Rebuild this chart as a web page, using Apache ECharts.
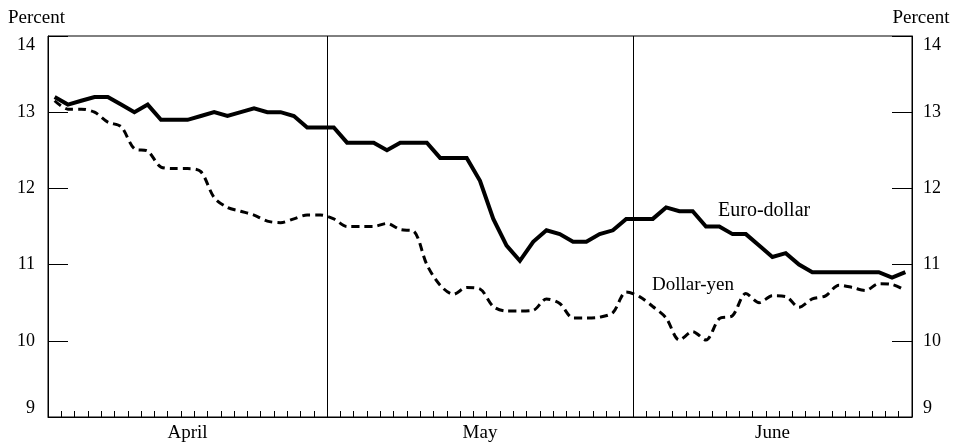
<!DOCTYPE html>
<html>
<head>
<meta charset="utf-8">
<script src="https://cdn.jsdelivr.net/npm/echarts@6/dist/echarts.min.js"></script>
<style>html,body{margin:0;padding:0;background:#fff;}#c{width:956px;height:447px;}</style>
</head>
<body>
<div id="c"></div>
<script>
// ---- data ----
const months = ['April', 'May', 'June'];
const daysPerMonth = [21, 23, 21];
const yTicks = [9, 10, 11, 12, 13, 14];
const euroDollar = [
  13.2, 13.1, 13.15, 13.2, 13.2, 13.1, 13.0, 13.1, 12.9, 12.9,
  12.9, 12.95, 13.0, 12.95, 13.0, 13.05, 13.0, 13.0, 12.95, 12.8,
  12.8, 12.8, 12.6, 12.6, 12.6, 12.5, 12.6, 12.6, 12.6, 12.4,
  12.4, 12.4, 12.1, 11.6, 11.25, 11.05, 11.3, 11.45, 11.4, 11.3,
  11.3, 11.4, 11.45, 11.6, 11.6, 11.6, 11.75, 11.7, 11.7, 11.5,
  11.5, 11.4, 11.4, 11.25, 11.1, 11.15, 11.0, 10.9, 10.9, 10.9,
  10.9, 10.9, 10.9, 10.83, 10.9
];
const dollarYen = [
  13.15, 13.04, 13.04, 13.0, 12.87, 12.81, 12.52, 12.49, 12.28, 12.26,
  12.26, 12.22, 11.88, 11.75, 11.7, 11.65, 11.57, 11.55, 11.6, 11.65,
  11.65, 11.6, 11.5, 11.5, 11.5, 11.54, 11.46, 11.44, 11.0, 10.73,
  10.61, 10.7, 10.68, 10.45, 10.39, 10.39, 10.4, 10.55, 10.49, 10.3,
  10.3, 10.31, 10.37, 10.64, 10.58, 10.45, 10.3, 10.01, 10.12, 10.01,
  10.29, 10.33, 10.62, 10.5, 10.59, 10.58, 10.44, 10.55, 10.59, 10.73,
  10.7, 10.66, 10.75, 10.74, 10.66
];

// ---- build categories ----
const categories = [];
const monthStart = [];
const monthMid = {};
let idx = 0;
months.forEach((m, mi) => {
  monthStart.push(idx);
  monthMid[idx + Math.floor(daysPerMonth[mi] / 2)] = m;
  for (let d = 0; d < daysPerMonth[mi]; d++) { categories.push(m + ' ' + (d + 1)); idx++; }
});

const FONT = 'Liberation Serif';
const txt = { fontFamily: FONT, fontSize: 18, color: '#000' };

const chart = echarts.init(document.getElementById('c'), null, { renderer: 'canvas' });
chart.setOption({
  animation: false,
  backgroundColor: '#fff',
  grid: { left: 48, right: 44, top: 36, bottom: 30, show: true, borderColor: '#000', borderWidth: 1, backgroundColor: 'transparent' },
  xAxis: {
    type: 'category',
    data: categories,
    boundaryGap: true,
    axisLine: { lineStyle: { color: '#000', width: 1 } },
    axisTick: { show: true, inside: true, length: 6, interval: 0, lineStyle: { color: '#000' } },
    axisLabel: {
      interval: (i) => monthMid[i] !== undefined,
      formatter: (v, i) => monthMid[i] || '',
      margin: 7,
      fontFamily: FONT, fontSize: 19, color: '#000'
    },
    splitLine: { show: true, interval: (i) => monthStart.indexOf(i) > 0, lineStyle: { color: '#000', width: 1 } }
  },
  yAxis: [
    {
      type: 'value', min: yTicks[0], max: yTicks[yTicks.length - 1], interval: 1,
      position: 'left',
      name: 'Percent', nameLocation: 'end', nameGap: 8,
      nameTextStyle: { fontFamily: FONT, fontSize: 19, color: '#000', align: 'center', padding: [0, 23, 0, 0] },
      axisLine: { show: true, lineStyle: { color: '#000', width: 1 } },
      axisTick: { show: true, inside: true, length: 20, lineStyle: { color: '#000' } },
      axisLabel: { margin: 13, verticalAlignMaxLabel: 'top', verticalAlignMinLabel: 'bottom', ...txt },
      splitLine: { show: false }
    },
    {
      type: 'value', min: yTicks[0], max: yTicks[yTicks.length - 1], interval: 1,
      position: 'right',
      name: 'Percent', nameLocation: 'end', nameGap: 8,
      nameTextStyle: { fontFamily: FONT, fontSize: 19, color: '#000', align: 'center', padding: [0, 0, 0, 18] },
      axisLine: { show: true, lineStyle: { color: '#000', width: 1 } },
      axisTick: { show: true, inside: true, length: 20, lineStyle: { color: '#000' } },
      axisLabel: { margin: 11, verticalAlignMaxLabel: 'top', verticalAlignMinLabel: 'bottom', ...txt },
      splitLine: { show: false }
    }
  ],
  series: [
    {
      name: 'Euro-dollar', type: 'line', data: euroDollar, yAxisIndex: 0,
      symbol: 'none', smooth: false,
      lineStyle: { color: '#000', width: 4, join: 'miter' }
    },
    {
      name: 'Dollar-yen', type: 'line', data: dollarYen, yAxisIndex: 0,
      symbol: 'none', smooth: 0.3,
      lineStyle: { color: '#000', width: 3, type: [8, 5] }
    }
  ],
  graphic: [
    { type: 'text', left: 718, top: 201, style: { text: 'Euro-dollar', font: '20px "Liberation Serif"', fill: '#000' } },
    { type: 'text', left: 652, top: 276, style: { text: 'Dollar-yen', font: '19px "Liberation Serif"', fill: '#000' } }
  ]
});
</script>
</body>
</html>
